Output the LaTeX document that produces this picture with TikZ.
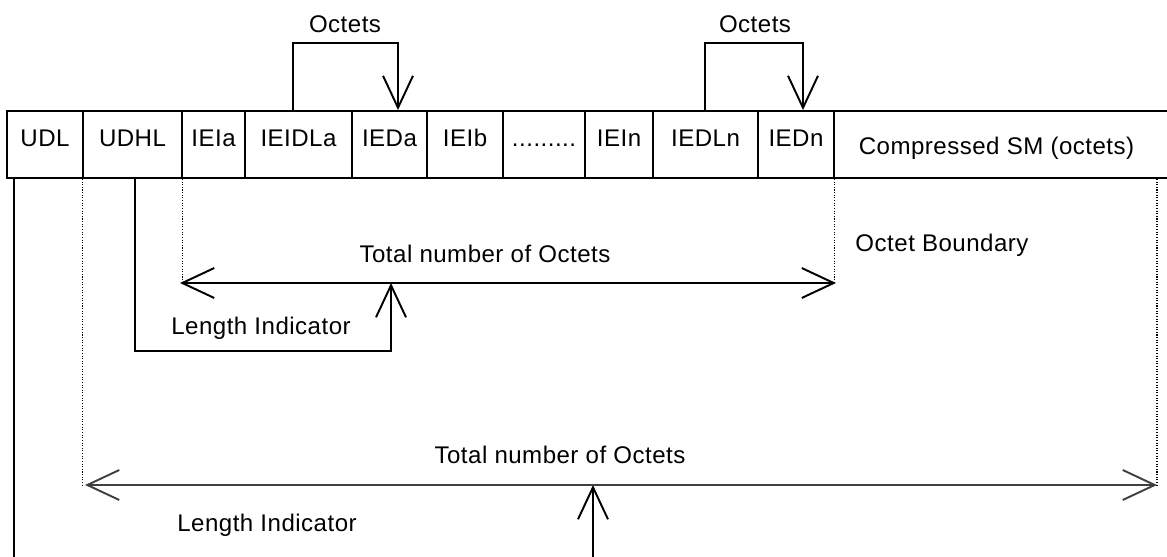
\documentclass[tikz,border=0pt]{standalone}
\usepackage{fontspec}
\setmainfont{Liberation Sans}[LetterSpace=2]
\usetikzlibrary{arrows.meta}

\tikzset{
  cell/.style={draw, inner sep=0pt, minimum height=1.34cm,
    text height=0.34cm, text depth=0.24cm},
  openhead/.style={-{Straight Barb[length=0.64cm,width=0.6cm]}},
  twohead/.style={{Straight Barb[length=0.64cm,width=0.6cm]}-{Straight Barb[length=0.64cm,width=0.6cm]}},
  octline/.style={line width=0.6pt, dash pattern=on 0.6pt off 0.9pt},
}

\begin{document}
\begin{tikzpicture}[x=0.02cm, y=-0.02cm, line width=1.1pt,
    every node/.style={font=\fontsize{13.7}{16}\selectfont}]
  \useasboundingbox (0,0) rectangle (1167,557);
  \draw
    (45,144.5) node[cell, minimum width=1.52cm] (UDL){UDL}
    (132.5,144.5) node[cell, minimum width=1.98cm] (UDHL){UDHL}
    (213.5,144.5) node[cell, minimum width=1.26cm] (IEIa){IEIa}
    (298.5,144.5) node[cell, minimum width=2.14cm] (IEIDLa){IEIDLa}
    (389.5,144.5) node[cell, minimum width=1.5cm] (IEDa){IEDa}
    (465,144.5) node[cell, minimum width=1.52cm] (IEIb){IEIb}
    (544,144.5) node[cell, minimum width=1.64cm] (dots){.........}
    (619,144.5) node[cell, minimum width=1.36cm] (IEIn){IEIn}
    (705.5,144.5) node[cell, minimum width=2.1cm] (IEDLn){IEDLn}
    (796,144.5) node[cell, minimum width=1.52cm] (IEDn){IEDn}
    (1004.5,144.5) node[cell, minimum width=6.82cm, text height=0.42cm, text depth=0cm] (comp){\hspace*{-0.32cm}Compressed SM (octets)};
  \draw
    (345,24) node (octa){Octets}
    (755,24) node (octn){Octets}
    (485,254) node (tota){Total number of Octets}
    (261,328) node (lena){Length Indicator}
    (942,245) node (bound){Octet Boundary}
    (560,455) node (totb){Total number of Octets}
    (267,525) node (lenb){Length Indicator};
  \coordinate (ba1) at (293,43);
  \coordinate (ba2) at (398,43);
  \coordinate (bn1) at (705,43);
  \coordinate (bn2) at (803,43);
  \coordinate (udlfoot) at (14,560);
  \coordinate (midl) at (180,283);
  \coordinate (midr) at (836,283);
  \coordinate (lowl) at (85,485);
  \coordinate (lowr) at (1157,485);
  \coordinate (lia) at (135,351);
  \coordinate (lib) at (391,351);
  \coordinate (lic) at (593,560);
  \begin{scope}[openhead]
    \draw (IEIDLa.north -| ba1) -- (ba1) -- (ba2) -- (IEDa.north -| ba2);
    \draw (IEDLn.north -| bn1) -- (bn1) -- (bn2) -- (IEDn.north -| bn2);
    \draw (UDHL.south -| lia) -- (lia) -- (lib) -- (lib |- midl);
    \draw (lic) -- (lic |- lowl);
  \end{scope}
  \draw (UDL.south -| udlfoot) -- (udlfoot);
  \draw[octline] (UDHL.south west) -- (lowl -| UDHL.south west);
  \draw[octline] (UDHL.south east) -- (midl -| UDHL.south east);
  \draw[octline] (IEDn.south east) -- (midr -| IEDn.south east);
  \draw[octline] (comp.south -| lowr) -- (lowr);
  \draw[twohead] (midl) -- (midr);
  \draw[twohead, black!75] (lowl) -- (lowr);
\end{tikzpicture}
\end{document}
